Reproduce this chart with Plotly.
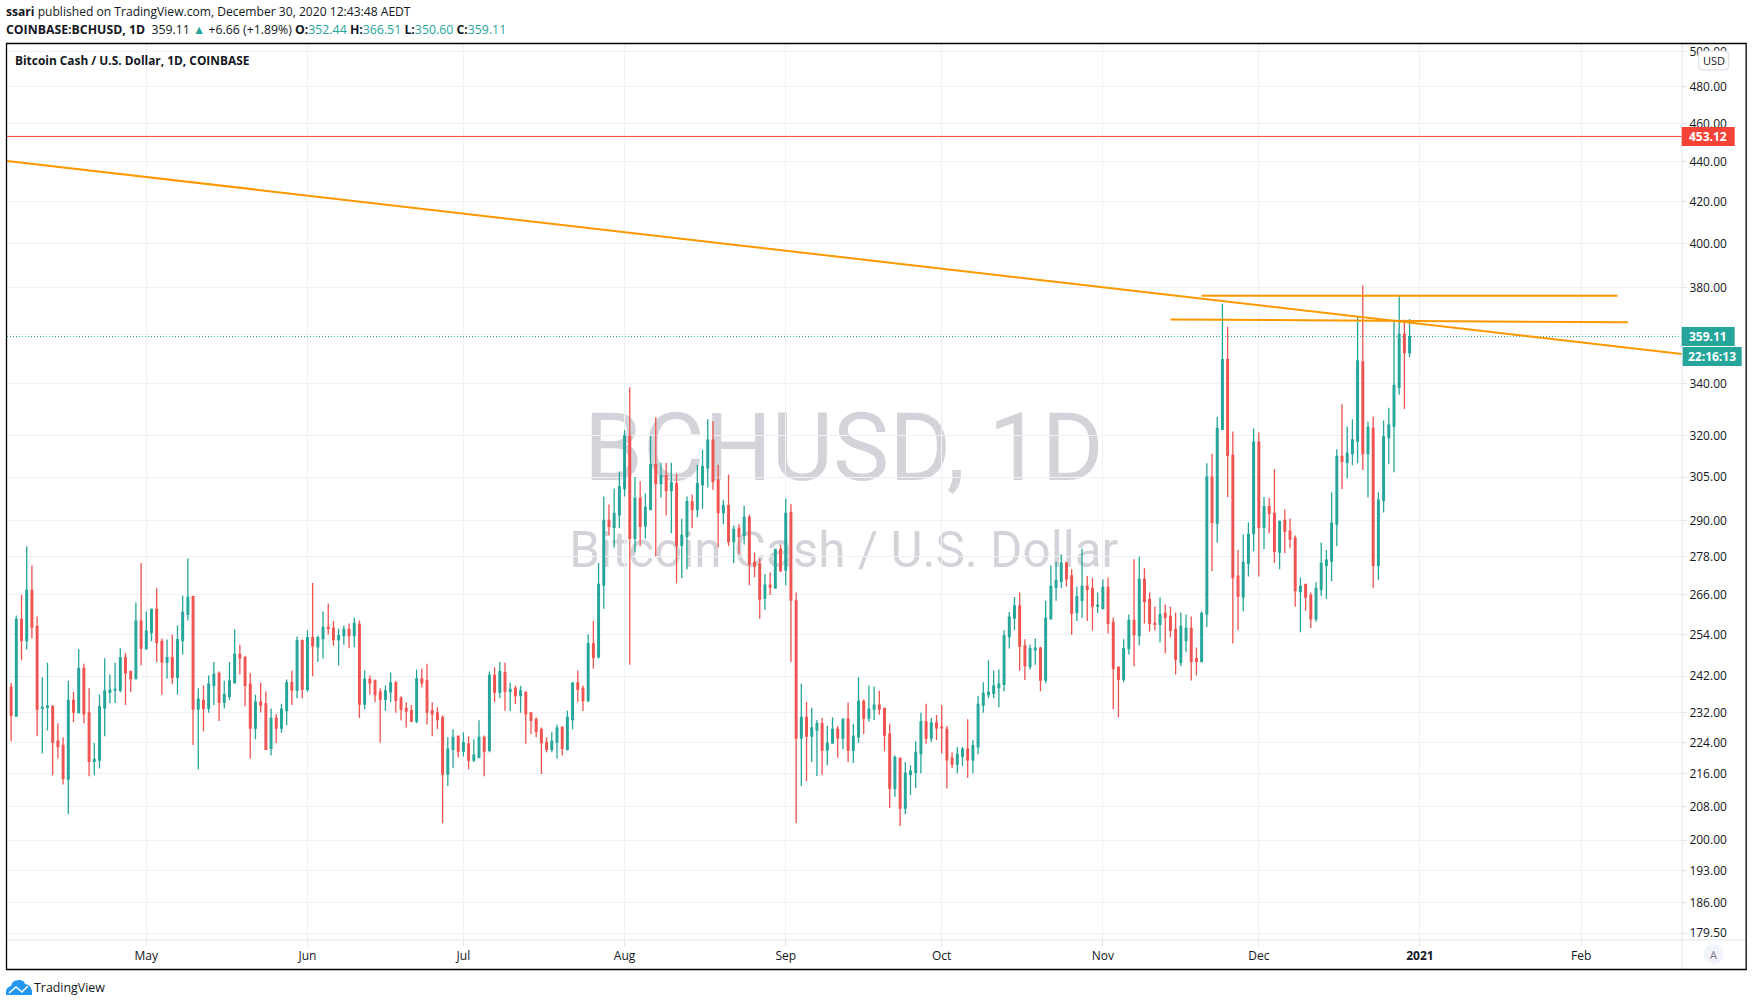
import math
import pandas as pd
import plotly.graph_objects as go

# ---------- data ----------
first_day = "2020-04-05"
directions = ("RGRGRRGGRR" "RGRGRRGGGG" "GGRRGRGGRR" "GRGGGRGRGG" "RGGGRRRGRR" "GRGGRGRGRG"
              "GRRGGRGRGR" "RRGGRRRRGR" "RRRRGGRGRG" "GRGRGRGRGR" "RRRRGGRGGR" "RGRGGRGGGR"
              "GRGGRGRGRG" "GRGGGRRGRG" "RGRRRGRGRG" "RRGRGGRGGR" "GRGGRGGRRR" "GRGGGGRGRR"
              "RRGGRGGGGG" "GGGGRRGGRG" "GGGRRGGRRG" "GRRRGGRGRR" "RGRRRGGRRG" "GRGGRRRGGG"
              "RGRRGRRRGR" "RGGGGGRGGG" "RGRGGGGGRG")
body_tops = [
    238.9,258.5,258.5,267.4,267.4,256.4,233.4,233.7,233.7,224.4,
    223.3,235.3,235.3,244.2,244.2,231.9,219.7,233.6,237.8,238.1,
    238.3,247.2,247.2,243.3,258,258,255,261.5,261.5,252,
    247.3,247.3,252.5,260.6,265.2,265.4,235.6,235.3,239.8,242.5,
    242.8,236.9,240.7,248.2,248.2,247.3,239.8,234.8,234.8,234.3,
    230.4,230.4,232.9,240.2,240.2,252.2,252.2,253.1,253.1,253.1,
    256.1,256.1,255.8,253.7,255.5,255.5,257.3,257,241.1,241.1,
    240.7,237.6,237.9,240.1,240.1,235.9,233.1,232.5,241.2,241.2,
    240.7,232.5,231.9,230.7,222.3,225.4,225.7,224,223.7,220.8,
    225.4,225.4,242.2,242.2,243.3,243,238.3,238.6,237.9,237.5,
    231.9,230.1,227.5,224.1,224.4,227.8,228,230.7,240.1,240.1,
    238.6,251.3,251.3,269.2,290,290,292.4,301.6,319.9,319.9,
    297.5,297.5,294.4,309.4,309.4,305.5,305.5,303,302.7,285,
    296.4,296.4,302.7,308.7,318.4,318.4,303.8,295,295,287,
    287.3,291,291,276.3,275.7,269,269,280.4,280.4,292.4,
    292.7,264.1,230.7,230.7,227.9,229,229,223.9,227.5,227.5,
    230.2,230.2,225.7,235,235,232.9,234,234,233.1,226.2,
    220.2,220,216.2,216.7,221.5,229.5,229.5,229.2,229.2,228.1,
    227.5,220,221,222.3,222.3,223.2,234.2,237.2,237.5,239.3,
    239.8,253.6,259.2,262.6,262.6,250.7,249.8,250,250,258.9,
    268.6,270.5,276,276,271.9,265.4,268.6,268.6,268,262.8,
    268.3,268.3,257.6,244.5,249.9,258.2,258.2,270.8,270.8,264.6,
    257.3,260,260.3,259.4,255.5,256.4,255.8,255.8,247,260.3,
    305,305,322.7,349.6,349.6,312.8,271.8,276.2,285.3,317.6,
    317.6,294.7,294.7,292.4,289.7,290,286.4,284.1,268.6,269.2,
    265.8,268,275.9,276.9,289.1,312.4,312.4,313.5,318.5,349.1,
    348.7,323.1,322.7,296.9,319.7,324,339.3,360,360,359.11]
body_bottoms = [
    231.2,231,252.2,252.2,256.2,232.9,233.1,233.4,224.1,223,
    214.9,214.7,232.1,231.9,231.6,219.2,219.2,219.5,233.2,237.5,
    238.1,238.1,242.9,241.3,241.3,250,249.8,254.6,251.7,246,
    246,241.7,241.7,252.2,260,232.9,232.9,233.1,233.1,239.4,
    234.8,234.8,236.4,240.1,247.2,239.4,227.8,227.8,234,222.3,
    222.5,227.8,227.8,232.5,238.1,238.1,238.3,238.3,250.7,250.4,
    252.8,255.8,252.5,252.5,253.7,253.7,253.7,234.3,234.3,240.1,
    236.9,235.6,235.6,237.6,235.3,232.9,232.4,229.7,229.7,240.1,
    232.1,231.6,230.1,216,216,222.3,221.8,221.8,219.5,219.5,
    220.2,221.8,222,237.5,237.5,237.8,237.8,236.6,236.6,231.6,
    229.9,227,224,222.3,222.3,224.1,222.5,222.3,230.1,238.3,
    235.2,235.3,247.3,247.5,269,288,287.7,291.9,300.9,284,
    284,288,288.2,293.7,302.7,302.7,300.2,300.2,281.7,281.7,
    284.7,293.7,293.7,302.3,308.3,303.4,292.7,292.7,283,283,
    284.7,285,275.7,275,264.7,265,268.4,268.1,273.5,273.8,
    264.4,225.2,225.2,225.7,225.7,227.3,222.1,222.1,223.9,225.2,
    225.2,222.1,222.1,225.5,230.5,230.5,232.9,232.9,226,212.4,
    212.4,207.6,207.6,215.9,216.4,221.2,225.2,225.2,227.9,227.9,
    219.6,218.5,218.5,220.5,219.6,219.6,222.9,234,236.9,237.2,
    238.8,239.7,253.4,258.9,250.5,245,244.7,249.5,240.9,240.9,
    258.7,268.3,270.2,271,260.3,260.6,264.3,267.7,262.5,262.5,
    261.8,257.3,244.2,241.1,241.1,249.9,254,253.7,264,257.3,
    257,257,259.1,255.2,246.8,245.9,252.2,246.2,246.2,246.2,
    260.1,289.4,289.1,322.4,312.8,271.4,265.6,265.3,275.9,285.6,
    287.7,287.7,292.4,279.8,279.5,286.4,283.8,267.3,267,265.3,
    258.7,258.7,267.6,275.3,276.6,288.8,310.6,310.3,313.4,318,
    313.4,313.4,275.3,275.3,296.9,319.3,323.6,338.5,352.44,352.44]
highs = [
    240.1,259.7,266,281.4,275.2,259.4,241.7,245.8,233.7,229.1,
    225.4,240.7,237.6,249.7,245.5,238.6,223.9,236.9,247.1,242.5,
    245.8,250,248.6,243.6,263.6,276,260.9,261.8,268,252.8,
    252.5,254,256.7,265.7,277.5,265.7,238.6,239.4,242.2,246,
    243.3,240.7,246,255.5,251,247.8,242.9,236.8,240.2,237.7,
    233.1,231.6,234.4,241.1,243.6,253.4,252.5,255.3,269.7,253.7,
    260.9,263.3,258,255.8,256.7,257.3,259,258.2,243.6,242.2,
    241.1,238.6,239.4,243,240.7,236.4,234.8,234,243.9,244.2,
    245.5,234.8,233.4,231.2,225.4,227.5,225.9,226.7,225.7,224.9,
    229.9,225.9,243.3,244.5,246,245.8,240.2,239.3,239.3,237.8,
    231.9,230.7,228,225.4,226.7,228.8,228.3,232.5,240.1,243.6,
    239.4,254,258,276,298.2,295.4,301,307,322.1,338.6,
    305,303.5,299.2,319.9,327,310.1,310.1,310.1,306.2,290.6,
    298.2,298.9,309.4,314.8,326.2,325.4,309.4,296.9,305.9,288.3,
    288.7,295,292,279.4,277.5,272.5,273,280.4,282,297.5,
    295.6,266.7,239.9,234.9,233.3,230,230.5,228.4,230.7,228.4,
    230.2,234.7,229,241.7,235.5,239.4,239.1,237.9,233.3,229,
    220.7,220.2,219,218.2,224.4,231.9,234.4,230.5,231.3,234,
    228.4,221.5,222.9,222.9,230.2,224.7,236.5,240.3,246.5,243.6,
    243.9,255.3,260.7,265.3,266.7,252.6,251.1,252.8,250.4,264.2,
    275.2,276.4,278.8,276.4,274,268.6,280.6,271.9,271.3,266.7,
    270.8,271.4,259.1,244.8,252.6,260,277.2,278,274.3,266.7,
    262.4,265.2,263,262.4,260.6,260.6,260,259.4,250.2,260.9,
    309.9,313.4,327.1,373,363.3,321.6,280.2,285.3,289.4,322.7,
    321.2,298,297.7,307.8,290,293.7,290.7,285,271.4,269.2,
    266.7,269.9,282.7,280.2,299.7,315,331.9,323.5,326.2,367.8,
    381,325.3,327.1,299.7,325.7,330.6,366.2,377,366.2,366.51]
lows = [
    224.4,231,246.5,249.6,252.8,225.7,221.2,227.2,215.7,219.9,
    213.4,206.1,229.4,231.9,229.1,215.4,215.7,217.4,225.7,234.5,
    234.6,237.5,234,237.6,241.1,245,249.8,252,246,236.8,
    241.3,239.8,236.9,248.2,258.2,223.4,217.2,227,231.9,234,
    229.7,233.1,235.3,240.1,242.5,233.7,219.9,224.9,232,222.3,
    220.7,223.9,226.6,228.6,234,235.9,235.9,237.6,242,246,
    247,254,250.7,245,251,250,250.3,230.5,232.9,236.9,
    234.8,224,232.5,234.8,231.9,229.9,228,229.4,229.1,238.9,
    228.8,225.7,227.5,204,213,217.6,220.2,220.4,217.2,219,
    219.9,215.4,221.5,234.8,235.9,232.5,232.4,234.3,231.9,223.7,
    226.2,225.4,216,221.5,221.5,219.9,220.7,222,227.5,234.8,
    232.4,234.8,244.2,247,261.7,285,281,287.4,298.2,245.2,
    279.4,281.4,284,293.7,278.2,297.8,291.7,285.7,269.6,271.2,
    274,287.4,291,294,301.3,300.5,281,288.7,281.4,276,
    279,282,269,271.5,258.7,261.4,265.9,268.1,273.2,269,
    246,204,213,214.2,219,215.5,215.8,218.2,223.9,220.1,
    222.3,219,218.8,223.9,226.3,229.5,230,231.4,221.8,207.6,
    210.3,203.3,206.2,210.8,212.5,216.2,223.7,224.2,224.7,221.2,
    212.4,217.5,216.2,218,215,216.2,221,231.9,235.9,235.9,
    233.4,237.8,249.9,255.3,243.5,240.9,243.9,245.2,237.8,240,
    258.7,264.2,268,268.6,253.9,258,259,258,255.2,260.4,
    261.8,254.3,232.8,230.7,240.3,248.2,244.8,250.8,257.3,254.9,
    255.2,251.7,248.5,253.1,242.5,244.8,248.8,240.8,242.2,245.9,
    256.2,273.4,282.7,322.4,297.9,251.4,255.3,261,271.7,279.8,
    271.7,280.5,285.6,276,274,279.2,280.8,262.3,254.7,261.1,
    255.9,257.8,265.6,264.7,270.2,281.4,300.8,304.6,309.2,309.9,
    307.5,297.9,268,270.5,292.7,309.6,306.7,335.6,330.1,350.6]

price_ticks = [179.5,186,193,200,208,216,224,232,242,254,266,278,290,305,320,340,360,380,400,420,440,460,480,500]
month_ticks = ["2020-05-01","2020-06-01","2020-07-01","2020-08-01","2020-09-01","2020-10-01",
               "2020-11-01","2020-12-01","2021-01-01","2021-02-01"]
month_labels = ["May","Jun","Jul","Aug","Sep","Oct","Nov","Dec","<b>2021</b>","Feb"]
view_dates = ["2020-04-04 05:00","2021-02-20 09:36"]
view_prices = [178.1, 504.5]
red_level = 453.12
last_close = 359.11
trend_dates = view_dates
trend_prices = [440.4, 351.9]
top_line_dates = ["2020-11-20","2021-02-08"]
top_line_prices = [376.5, 376.5]
mid_line_dates = ["2020-11-14","2021-02-10"]
mid_line_prices = [366.3, 365.1]

# ---------- derived ----------
assert len(directions)==len(body_tops)==len(body_bottoms)==len(highs)==len(lows)==270
days = pd.date_range(first_day, periods=len(highs), freq="D")
opens = [b if d=="G" else t for d,t,b in zip(directions,body_tops,body_bottoms)]
closes = [t if d=="G" else b for d,t,b in zip(directions,body_tops,body_bottoms)]

# ---------- page geometry ----------
W,H = 1753,1006
L,R,T,B = 7,1682.3,44,940
GREEN,RED,ORANGE = "#26a69a","#ef5350","#ff9800"
GRID,EDGE,INK = "#f0f1f4","#e0e3eb","#131722"
FONT = "Open Sans"
px = lambda x:(x-L)/(R-L)
py = lambda y:(B-y)/(B-T)

fig = go.Figure()
fig.add_trace(go.Candlestick(x=days,open=opens,high=highs,low=lows,close=closes,
    increasing=dict(line=dict(color=GREEN,width=1.3),fillcolor=GREEN),
    decreasing=dict(line=dict(color=RED,width=1.3),fillcolor=RED),
    whiskerwidth=0,hoverinfo="skip",showlegend=False))
def line(xs,ys,color,width,dash="solid"):
    fig.add_trace(go.Scatter(x=xs,y=ys,mode="lines",line=dict(color=color,width=width,dash=dash),
                             hoverinfo="skip",showlegend=False))
line(view_dates,[last_close,last_close],GREEN,1,"1px,2px")
line(view_dates,[red_level,red_level],"#f44336",1)
line(trend_dates,trend_prices,ORANGE,2)
line(top_line_dates,top_line_prices,ORANGE,2)
line(mid_line_dates,mid_line_prices,ORANGE,2)

shapes=[]
def rect(x0,y0,x1,y1,fill,edge=None,w=0,layer="above"):
    shapes.append(dict(type="rect",xref="paper",yref="paper",x0=px(x0),x1=px(x1),y0=py(y0),y1=py(y1),
                       fillcolor=fill,line=dict(color=edge or fill,width=w),layer=layer))
def seg(x0,y0,x1,y1,color,w):
    shapes.append(dict(type="line",xref="paper",yref="paper",x0=px(x0),x1=px(x1),y0=py(y0),y1=py(y1),
                       line=dict(color=color,width=w)))
def watermark(text,size,cy):
    shapes.append(dict(type="rect",xref="paper",yref="paper",x0=px(544),x1=px(1144),y0=py(cy-60),y1=py(cy+60),
                       line=dict(width=0),fillcolor="rgba(0,0,0,0)",layer="below",
                       label=dict(text=text,textposition="middle center",
                                  font=dict(family="Roboto",size=size,color="#d3d4d9"))))
watermark("BCHUSD, 1D",94.5,441)
watermark("Bitcoin Cash / U.S. Dollar",49.4,547)

seg(R,44,R,969,EDGE,1)
seg(7,B,1746,B,EDGE,1)
rect(1682,127,1735,146,"#f44336")
rect(1682,327,1735,346,GREEN)
rect(1683,347,1742,366,GREEN)
rect(6.5,43.5,1746.5,969.5,"rgba(0,0,0,0)","#000000",1.3)

def rounded(x0,y0,x1,y1,r):
    p=lambda x,y:f"{px(x)} {py(y)}"
    return (f"M {p(x0+r,y0)} L {p(x1-r,y0)} Q {p(x1,y0)} {p(x1,y0+r)} L {p(x1,y1-r)} Q {p(x1,y1)} {p(x1-r,y1)} "
            f"L {p(x0+r,y1)} Q {p(x0,y1)} {p(x0,y1-r)} L {p(x0,y0+r)} Q {p(x0,y0)} {p(x0+r,y0)} Z")
shapes.append(dict(type="path",xref="paper",yref="paper",path=rounded(1699,51,1729,70,4),
                   fillcolor="#ffffff",line=dict(color="#d9dce4",width=1)))
shapes.append(dict(type="circle",xref="paper",yref="paper",x0=px(1704),x1=px(1724),y0=py(944),y1=py(964),
                   fillcolor="#f0f3fa",line=dict(width=0)))
# TradingView logo
q=lambda x,y:f"{px(x)} {py(y)}"
shapes.append(dict(type="path",xref="paper",yref="paper",fillcolor="#2196f3",line=dict(width=0),
    path=(f"M {q(6,995)} Q {q(5,987)} {q(11,986)} Q {q(12,980)} {q(19,980)} Q {q(24,980)} {q(25,984)} "
          f"Q {q(33,985)} {q(32,995)} Z")))
shapes.append(dict(type="path",xref="paper",yref="paper",line=dict(color="#ffffff",width=1.5),
    path=f"M {q(9,993)} L {q(16,987)} L {q(22,992)} L {q(28,986)}"))

anns=[]
def text(x,y,s,size=12,color=INK,anchor="left",family=FONT):
    anns.append(dict(xref="paper",yref="paper",x=px(x),y=py(y),text=s,showarrow=False,xanchor=anchor,yanchor="middle",
                     font=dict(family=family,size=size,color=color),borderpad=0,borderwidth=0))
T_=lambda s:f'<span style="color:{GREEN}">{s}</span>'
text(6,12,"<b>ssari</b> published on TradingView.com, December 30, 2020 12:43:48 AEDT",12.1)
text(6,29.5,f"<b>COINBASE:BCHUSD, 1D</b>  359.11 {T_('▲')} +6.66 (+1.89%) <b>O:</b>{T_('352.44')} <b>H:</b>{T_('366.51')} "
          f"<b>L:</b>{T_('350.60')} <b>C:</b>{T_('359.11')}",12.3)
text(15,60,"<b>Bitcoin Cash / U.S. Dollar, 1D, COINBASE</b>",11.9)
text(1708.5,136.6,"<b>453.12</b>",12,"#ffffff","center")
text(1708.5,336.6,"<b>359.11</b>",12,"#ffffff","center")
text(1712.5,356.6,"<b>22:16:13</b>",12,"#ffffff","center")
text(1714,60.5,"USD",11,INK,"center")
text(1714,954.5,"A",11,"#787b86","center")
text(34,987,"TradingView",12.4)

fig.update_layout(
    width=W,height=H,margin=dict(l=L,r=W-R,t=T,b=H-B,pad=0,autoexpand=False),
    paper_bgcolor="#ffffff",plot_bgcolor="#ffffff",showlegend=False,boxgap=0.55,
    shapes=shapes,annotations=anns,hovermode=False,
    font=dict(family=FONT,size=12,color=INK),
    xaxis=dict(type="date",range=view_dates,tickmode="array",tickvals=month_ticks,ticktext=month_labels,
               rangeslider=dict(visible=False),showgrid=True,gridcolor=GRID,gridwidth=1,zeroline=False,
               showline=False,ticks="outside",ticklen=5,tickcolor=EDGE,tickfont=dict(family=FONT,size=12,color=INK)),
    yaxis=dict(type="log",side="right",range=[math.log10(v) for v in view_prices],
               tickmode="array",tickvals=price_ticks,ticktext=[f"{v:.2f}" for v in price_ticks],
               showgrid=True,gridcolor=GRID,gridwidth=1,zeroline=False,showline=False,
               ticks="outside",ticklen=4,tickcolor=EDGE,tickfont=dict(family=FONT,size=12,color=INK)),
)
fig.write_html("out.html",config={"displayModeBar":False},
               post_script="document.body.style.margin='0';document.body.style.overflow='hidden';")
